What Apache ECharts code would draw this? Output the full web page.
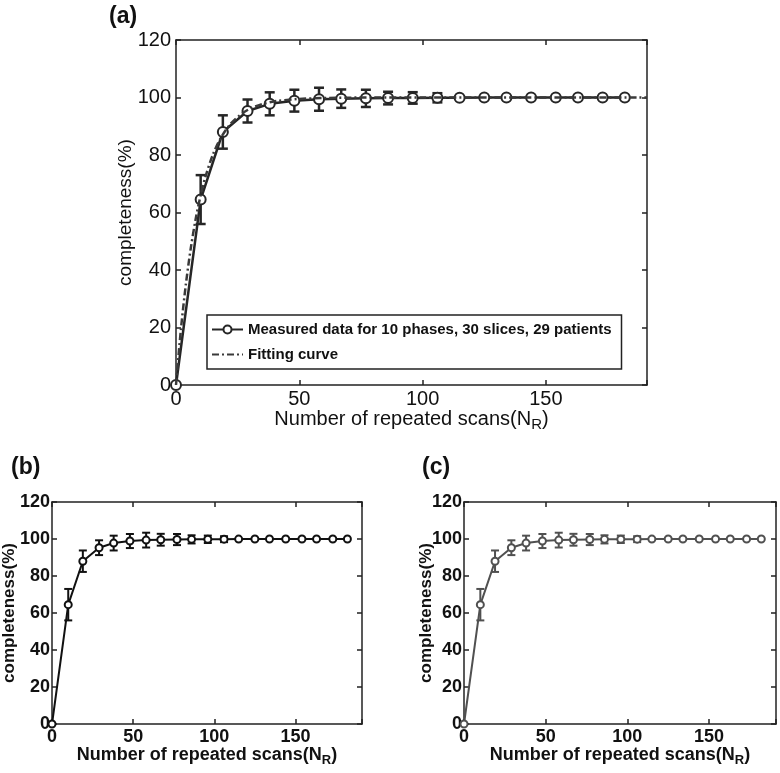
<!DOCTYPE html>
<html>
<head>
<meta charset="utf-8">
<script src="https://cdn.jsdelivr.net/npm/echarts@6/dist/echarts.min.js"></script>
<style>html,body{margin:0;padding:0;background:#fff;}#c{width:780px;height:773px;}</style>
</head>
<body>
<div id="c"></div>
<script>
// ---- data ----
const scans = [0, 10, 19, 29, 38, 48, 58, 67, 77, 86, 96, 106, 115, 125, 134, 144, 154, 163, 173, 182];
const completeness = [0, 64.5, 88, 95.3, 97.8, 98.9, 99.4, 99.6, 99.7, 99.8, 99.85, 99.9, 99.95, 100, 100, 100, 100, 100, 100, 100];
const errSD = [0, 8.5, 5.8, 4.0, 4.0, 3.8, 4.0, 3.2, 3.0, 2.2, 2.0, 1.6, 0, 0, 0, 0, 0, 0, 0, 0];
const fitX = [0, 2, 4, 6, 8, 10, 12, 15, 18, 22, 26, 30, 35, 40, 50, 60, 80, 100, 130, 160, 191];
const fitY = [0, 19.4, 35.0, 47.6, 57.8, 66.0, 72.6, 80.2, 85.7, 90.7, 93.9, 96.1, 97.7, 98.7, 99.5, 99.8, 100, 100, 100, 100, 100];
const xTicks = [0, 50, 100, 150];
const yTicks = [0, 20, 40, 60, 80, 100, 120];
const nameMeasured = 'Measured data for 10 phases, 30 slices, 29 patients';
const nameFit = 'Fitting curve';

const FONT = 'Liberation Sans, Arial, sans-serif';
const X_MAX = 191;

const chart = echarts.init(document.getElementById('c'), null, {renderer: 'canvas'});

function pairs(xs, ys) { return xs.map((x, i) => [x, ys[i]]); }
function errData() {
  const out = [];
  scans.forEach((x, i) => { if (errSD[i] > 0) out.push([x, completeness[i] - errSD[i], completeness[i] + errSD[i]]); });
  return out;
}

const panels = [
  {grid: {left: 176, top: 40, width: 471, height: 345}, bold: false, tickFont: 20, nameFont: 20, subFont: 15,
   color: '#262626', lw: 2.5, sym: 10, cap: 5, nameGapX: 22, nameGapY: 41, labelMarginY: 5},
  {grid: {left: 51, top: 502, width: 311, height: 222}, bold: true, tickFont: 18, nameFont: 18, subFont: 13,
   color: '#111', lw: 2, sym: 7, cap: 4, nameGapX: 20, nameGapY: 34, labelMarginY: 2},
  {grid: {left: 464, top: 502, width: 312, height: 222}, bold: true, tickFont: 18, nameFont: 18, subFont: 13,
   color: '#505050', lw: 2, sym: 7, cap: 4, nameGapX: 20, nameGapY: 29, labelMarginY: 2}
];

const grids = [], xAxes = [], yAxes = [], series = [];
const axisLineStyle = {color: '#222', width: 1.5};

panels.forEach((p, k) => {
  grids.push(Object.assign({containLabel: false}, p.grid));
  const fw = p.bold ? 'bold' : 'normal';
  const xi = xAxes.length, yi = yAxes.length;
  xAxes.push({
    type: 'value', gridIndex: k, min: 0, max: X_MAX, interval: 50, position: 'bottom',
    axisLine: {show: true, lineStyle: axisLineStyle, onZero: false},
    axisTick: {show: true, inside: true, length: 5, lineStyle: axisLineStyle},
    splitLine: {show: false},
    axisLabel: {fontFamily: FONT, fontSize: p.tickFont, fontWeight: fw, color: '#111', margin: 4,
      formatter: v => (xTicks.indexOf(v) >= 0 ? String(v) : '')},
    name: '{a|Number of repeated scans(N}{s|R}{a|)}',
    nameLocation: 'middle', nameGap: p.nameGapX, nameMoveOverlap: false,
    nameTextStyle: {rich: {
      a: {fontFamily: FONT, fontSize: p.nameFont, fontWeight: fw, color: '#111'},
      s: {fontFamily: FONT, fontSize: p.subFont, fontWeight: fw, color: '#111', padding: [10, 0, 0, 0]}
    }}
  });
  xAxes.push({
    type: 'value', gridIndex: k, min: 0, max: X_MAX, interval: 50, position: 'top',
    axisLine: {show: true, lineStyle: axisLineStyle, onZero: false},
    axisTick: {show: true, inside: true, length: 5, lineStyle: axisLineStyle},
    axisLabel: {show: false}, splitLine: {show: false}
  });
  yAxes.push({
    type: 'value', gridIndex: k, min: 0, max: 120, interval: 20, position: 'left',
    axisLine: {show: true, lineStyle: axisLineStyle, onZero: false},
    axisTick: {show: true, inside: true, length: 5, lineStyle: axisLineStyle},
    splitLine: {show: false},
    axisLabel: {fontFamily: FONT, fontSize: p.tickFont, fontWeight: fw, color: '#111', margin: p.labelMarginY,
      formatter: v => (yTicks.indexOf(v) >= 0 ? String(v) : '')},
    name: 'completeness(%)', nameLocation: 'middle', nameGap: p.nameGapY, nameMoveOverlap: false,
    nameTextStyle: {fontFamily: FONT, fontSize: p.bold ? 17 : 19, fontWeight: fw, color: '#111'}
  });
  yAxes.push({
    type: 'value', gridIndex: k, min: 0, max: 120, interval: 20, position: 'right',
    axisLine: {show: true, lineStyle: axisLineStyle, onZero: false},
    axisTick: {show: true, inside: true, length: 5, lineStyle: axisLineStyle},
    axisLabel: {show: false}, splitLine: {show: false}
  });

  // error bars
  series.push({
    type: 'custom', xAxisIndex: xi, yAxisIndex: yi, silent: true, z: 3,
    encode: {x: 0, y: [1, 2]},
    data: errData(),
    renderItem: (params, api) => {
      const x = api.value(0);
      const lo = api.coord([x, api.value(1)]);
      const hi = api.coord([x, api.value(2)]);
      const st = {stroke: p.color, lineWidth: p.lw};
      return {type: 'group', children: [
        {type: 'line', shape: {x1: hi[0], y1: hi[1], x2: lo[0], y2: lo[1]}, style: st},
        {type: 'line', shape: {x1: hi[0] - p.cap, y1: hi[1], x2: hi[0] + p.cap, y2: hi[1]}, style: st},
        {type: 'line', shape: {x1: lo[0] - p.cap, y1: lo[1], x2: lo[0] + p.cap, y2: lo[1]}, style: st}
      ]};
    }
  });
  // measured line
  series.push({
    type: 'line', name: k === 0 ? nameMeasured : 'measured' + k, xAxisIndex: xi, yAxisIndex: yi,
    data: pairs(scans, completeness), symbol: 'emptyCircle', symbolSize: p.sym, z: 4,
    lineStyle: {color: p.color, width: p.lw}, itemStyle: {color: p.color, borderWidth: p.lw}, silent: true
  });
  if (k === 0) {
    series.push({
      type: 'line', name: nameFit, xAxisIndex: xi, yAxisIndex: yi,
      data: pairs(fitX, fitY), symbol: 'none', smooth: 0.3, z: 5,
      lineStyle: {color: '#3a3a3a', width: 2.5, type: [7, 3, 2, 3]}, itemStyle: {color: '#3a3a3a'}, silent: true
    });
  }
});

chart.setOption({
  animation: false,
  backgroundColor: '#fff',
  title: [
    {text: '(a)', left: 104, top: 0, textStyle: {fontFamily: FONT, fontSize: 23, fontWeight: 'bold', color: '#111'}},
    {text: '(b)', left: 6, top: 451, textStyle: {fontFamily: FONT, fontSize: 23, fontWeight: 'bold', color: '#111'}},
    {text: '(c)', left: 417, top: 451, textStyle: {fontFamily: FONT, fontSize: 23, fontWeight: 'bold', color: '#111'}}
  ],
  legend: {
    data: [
      {name: nameMeasured},
      {name: nameFit, itemStyle: {opacity: 0}}
    ],
    orient: 'vertical', left: 207, top: 315,
    selectedMode: false, itemWidth: 31, itemHeight: 10, itemGap: 10,
    padding: [7, 10, 7, 4], borderColor: '#222', borderWidth: 1.5, backgroundColor: '#fff',
    textStyle: {fontFamily: FONT, fontSize: 15, fontWeight: 'bold', color: '#111'}
  },
  grid: grids, xAxis: xAxes, yAxis: yAxes, series: series
});
</script>
</body>
</html>
